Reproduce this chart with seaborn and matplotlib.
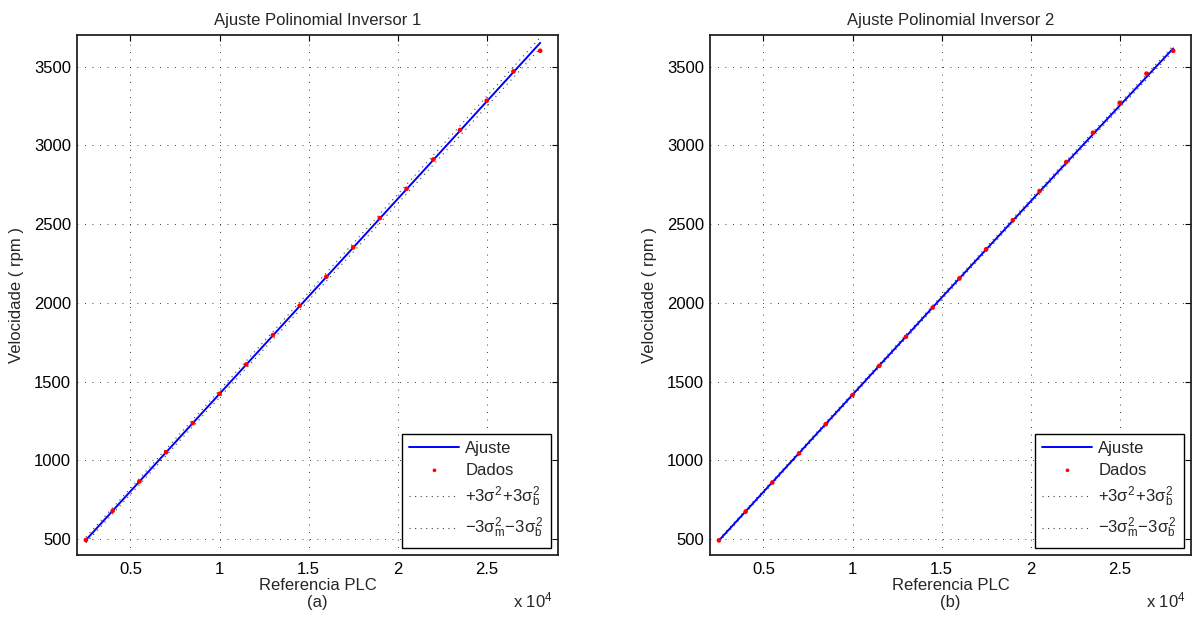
import numpy as np
import pandas as pd
import matplotlib
matplotlib.use("Agg")
import matplotlib.pyplot as plt
import seaborn as sns
from matplotlib.ticker import FuncFormatter

# ---------------- data ----------------
ref_plc = [2500, 4000, 5500, 7000, 8500, 10000, 11500, 13000, 14500,
           16000, 17500, 19000, 20500, 22000, 23500, 25000, 26500, 28000]

vel_inv1 = [495, 680, 866, 1052, 1237, 1423, 1609, 1796, 1982,
            2166, 2352, 2538, 2724, 2910, 3097, 3283, 3469, 3600]
vel_inv2 = [493, 675, 860, 1045, 1230, 1415, 1600, 1785, 1970,
            2155, 2340, 2525, 2710, 2894, 3080, 3270, 3455, 3600]

fit_x = [2500, 8500, 15000, 21500, 28000]
fit1_y = [495, 1237, 2041, 2845, 3650]
fit2_y = [492, 1232, 2033, 2828, 3615]

band1 = [18, 22, 26, 30, 34]
band2 = [9, 11, 13, 15, 17]

x_ticks = [5000, 10000, 15000, 20000, 25000]
y_ticks = [500, 1000, 1500, 2000, 2500, 3000, 3500]
titles = ["Ajuste Polinomial Inversor 1", "Ajuste Polinomial Inversor 2"]
sublabels = ["(a)", "(b)"]
legend_labels = ["Ajuste", "Dados", r"$+3\sigma^2\!+\!3\sigma_b^2$",
                 r"$-3\sigma_m^2\!-\!3\sigma_b^2$"]

# ---------------- style ----------------
sns.set_style("white")
plt.rcParams["font.family"] = ["Liberation Sans", "DejaVu Sans"]
plt.rcParams["mathtext.fontset"] = "custom"
plt.rcParams["mathtext.rm"] = "Liberation Sans"
plt.rcParams["mathtext.it"] = "Liberation Sans"
FS = 12
plt.rcParams["font.size"] = FS

W, H = 1199, 624
fig = plt.figure(figsize=(W / 100, H / 100), dpi=100)
fig.patch.set_facecolor("white")

positions = [(77, 558), (710, 1191)]
top_px, bot_px = 35, 555

datasets = [(vel_inv1, fit1_y, band1), (vel_inv2, fit2_y, band2)]

for i, ((l, r), (vel, fity, band)) in enumerate(zip(positions, datasets)):
    ax = fig.add_axes([l / W, (H - bot_px) / H, (r - l) / W, (bot_px - top_px) / H])
    df_fit = pd.DataFrame({"x": fit_x, "y": fity,
                           "up": np.array(fity) + np.array(band),
                           "lo": np.array(fity) - np.array(band)})
    df_dat = pd.DataFrame({"x": ref_plc, "y": vel})

    sns.lineplot(data=df_fit, x="x", y="y", ax=ax, color="#0000ff", lw=1.4,
                 label=legend_labels[0], zorder=3)
    sns.scatterplot(data=df_dat, x="x", y="y", ax=ax, color="#ff0000", s=11,
                    marker="o", edgecolor="none", label=legend_labels[1], zorder=4)
    sns.lineplot(data=df_fit, x="x", y="up", ax=ax, color="#404040", lw=0.8,
                 linestyle=(0, (1, 4)), label=legend_labels[2], zorder=2)
    sns.lineplot(data=df_fit, x="x", y="lo", ax=ax, color="#404040", lw=0.8,
                 linestyle=(0, (1, 4)), label=legend_labels[3], zorder=2)

    ax.set_xlim(2000, 29000)
    ax.set_ylim(400, 3700)
    ax.set_xticks(x_ticks)
    ax.set_yticks(y_ticks)
    ax.xaxis.set_major_formatter(FuncFormatter(lambda v, p: f"{v/1e4:g}"))
    ax.grid(True, color="black", linestyle=(0, (1, 8)), lw=0.6)
    ax.tick_params(direction="in", length=4, width=0.8, top=True, right=True,
                   labelsize=FS, colors="black")
    ax.tick_params(axis="x", pad=5)
    ax.tick_params(axis="y", pad=4.3)
    for sp in ax.spines.values():
        sp.set_color("#222222")
        sp.set_linewidth(1.3)
        sp.set_visible(True)

    ax.set_title(titles[i], fontsize=FS, pad=7)
    ax.set_xlabel("Referencia PLC\n" + sublabels[i], fontsize=FS, labelpad=1,
                  linespacing=1.1)
    ax.set_ylabel("Velocidade ( rpm )", fontsize=FS, labelpad=7)
    ax.text((r - 5 - l) / (r - l), -(607 - bot_px) / (bot_px - top_px),
            r"x 10$^4$", transform=ax.transAxes, ha="right",
            va="baseline", fontsize=FS)

    leg = ax.legend(loc="lower right", frameon=True, fancybox=False,
                    edgecolor="black", framealpha=1, fontsize=FS,
                    handlelength=3.0, handletextpad=0.35, borderaxespad=0.45,
                    labelspacing=0.42, borderpad=0.42, markerscale=0.8)
    leg.get_frame().set_linewidth(1.0)

fig.savefig("out.png", dpi=100, facecolor="white")
